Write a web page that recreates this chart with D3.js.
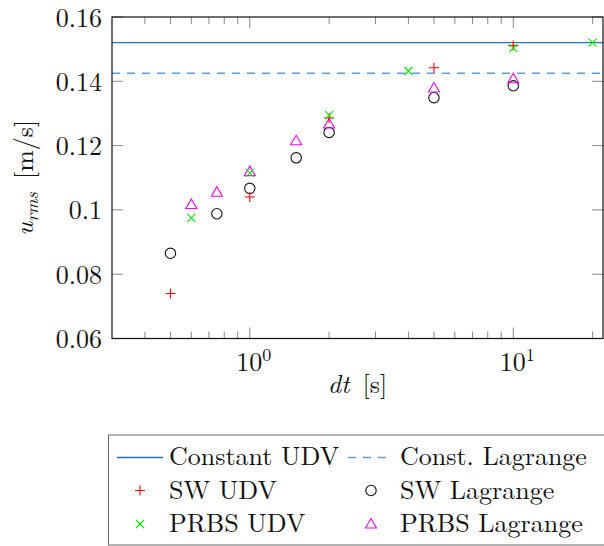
<!DOCTYPE html>
<html><head><meta charset="utf-8">
<script src="https://cdn.jsdelivr.net/npm/d3@7"></script>
<style>body{margin:0;background:#fff}svg{display:block}</style>
</head><body><svg id="c" width="604" height="546"></svg>
<script>
const swUdvX = [0.5, 1, 2, 5, 10];
const swUdvY = [0.074, 0.104, 0.1286, 0.1442, 0.1511];
const swLagX = [0.5, 0.75, 1, 1.5, 2, 5, 10];
const swLagY = [0.0865, 0.0988, 0.1067, 0.1162, 0.1241, 0.1349, 0.1386];
const prbsUdvX = [0.6, 1, 2, 4, 10, 20];
const prbsUdvY = [0.0975, 0.1115, 0.1295, 0.1432, 0.1503, 0.152];
const prbsLagX = [0.6, 0.75, 1, 1.5, 2, 5, 10];
const prbsLagY = [0.1017, 0.1055, 0.1119, 0.1215, 0.1267, 0.1379, 0.1408];
const constUdv = 0.152;
const constLag = 0.1425;
const yTicks = [0.06, 0.08, 0.1, 0.12, 0.14, 0.16];
const xMajor = [1, 10];
const xMinor = [0.4,0.5,0.6,0.7,0.8,0.9,2,3,4,5,6,7,8,9,20];
const legendLabels = ["Constant UDV","Const. Lagrange","SW UDV","SW Lagrange","PRBS UDV","PRBS Lagrange"];

const FF = "'Latin Modern Roman', 'Liberation Serif', serif";
const svg = d3.select("#c");
const L=112, R=603, T=17, B=338.5;
const x = d3.scaleLog().domain([0.3, 21.9]).range([L, R]);
const y = d3.scaleLinear().domain([0.06, 0.16]).range([B, T]);
const tickCol = "#8a8a8a";
const FS = 26;
const txt = "#111";
function T_(sel){ return sel.append("text").style("font-family",FF).attr("fill",txt).attr("font-size",FS); }

const g = svg.append("g");
yTicks.forEach(v=>{
  g.append("line").attr("x1",L).attr("x2",L+11).attr("y1",y(v)).attr("y2",y(v)).attr("stroke",tickCol);
  g.append("line").attr("x1",R-11).attr("x2",R).attr("y1",y(v)).attr("y2",y(v)).attr("stroke",tickCol);
  T_(g).attr("x",L-10).attr("y",y(v)+9.5).attr("text-anchor","end").text(d3.format(".2~f")(v));
});
xMinor.forEach(v=>{
  g.append("line").attr("x1",x(v)).attr("x2",x(v)).attr("y1",B).attr("y2",B-7).attr("stroke",tickCol);
  g.append("line").attr("x1",x(v)).attr("x2",x(v)).attr("y1",T).attr("y2",T+7).attr("stroke",tickCol);
});
xMajor.forEach(v=>{
  g.append("line").attr("x1",x(v)).attr("x2",x(v)).attr("y1",B).attr("y2",B-11).attr("stroke",tickCol);
  g.append("line").attr("x1",x(v)).attr("x2",x(v)).attr("y1",T).attr("y2",T+11).attr("stroke",tickCol);
  const t = T_(g).attr("x",x(v)+4).attr("y",371).attr("text-anchor","middle");
  t.append("tspan").text("10");
  t.append("tspan").attr("dy",-10).attr("font-size",18).text(Math.round(Math.log10(v)));
});

svg.append("line").attr("x1",L).attr("x2",R).attr("y1",y(constUdv)).attr("y2",y(constUdv)).attr("stroke","#1f77c0").attr("stroke-width",1.3);
svg.append("line").attr("x1",L).attr("x2",R).attr("y1",y(constLag)).attr("y2",y(constLag)).attr("stroke","#5f9fd6").attr("stroke-width",1.3).attr("stroke-dasharray","8,7");

function plus(sel, cx, cy){ sel.append("path").attr("d",`M${cx-5},${cy}H${cx+5}M${cx},${cy-5}V${cy+5}`).attr("stroke","#ff0000").attr("stroke-width",1.1).attr("fill","none"); }
function cross(sel, cx, cy){ sel.append("path").attr("d",`M${cx-4},${cy-4}L${cx+4},${cy+4}M${cx-4},${cy+4}L${cx+4},${cy-4}`).attr("stroke","#00ee00").attr("stroke-width",1.1).attr("fill","none"); }
function circ(sel, cx, cy){ sel.append("circle").attr("cx",cx).attr("cy",cy).attr("r",5.2).attr("stroke","#111").attr("stroke-width",1.1).attr("fill","none"); }
function tri(sel, cx, cy){ sel.append("path").attr("d",`M${cx},${cy-5.5}L${cx+5.5},${cy+4}L${cx-5.5},${cy+4}Z`).attr("stroke","#ff00ff").attr("stroke-width",1.1).attr("fill","none"); }

const mk = svg.append("g");
swLagX.forEach((v,i)=>circ(mk, x(v), y(swLagY[i])));
prbsLagX.forEach((v,i)=>tri(mk, x(v), y(prbsLagY[i])));
swUdvX.forEach((v,i)=>plus(mk, x(v), y(swUdvY[i])));
prbsUdvX.forEach((v,i)=>cross(mk, x(v), y(prbsUdvY[i])));

svg.append("rect").attr("x",L).attr("y",T).attr("width",R-L).attr("height",B-T).attr("fill","none").attr("stroke","#111").attr("stroke-width",1.2);

const xl = T_(svg).attr("x",(L+R)/2).attr("y",393).attr("text-anchor","middle");
xl.append("tspan").attr("font-style","italic").text("dt");
xl.append("tspan").text("\u2002[s]");
const yl = T_(svg).attr("transform",`translate(33,${(T+B)/2}) rotate(-90)`).attr("text-anchor","middle");
yl.append("tspan").attr("font-style","italic").text("u");
yl.append("tspan").attr("font-style","italic").attr("font-size",18).attr("dy",5).text("rms");
yl.append("tspan").attr("dy",-5).text("\u2002[m/s]");

const lg = svg.append("g");
lg.append("rect").attr("x",108.5).attr("y",435).attr("width",520).attr("height",110).attr("fill","#fff").attr("stroke","#666").attr("stroke-width",1);
const rows=[465,498.5,532];
lg.append("line").attr("x1",117).attr("x2",163).attr("y1",457.5).attr("y2",457.5).attr("stroke","#1f77c0").attr("stroke-width",1.3);
lg.append("line").attr("x1",348).attr("x2",390).attr("y1",457.5).attr("y2",457.5).attr("stroke","#5f9fd6").attr("stroke-width",1.3).attr("stroke-dasharray","8,7");
plus(lg,140,490.5); cross(lg,140,524);
circ(lg,371,490.5); tri(lg,371,524);
const lx=[169,400];
legendLabels.forEach((t,i)=>{
  T_(lg).attr("x",lx[i%2]).attr("y",rows[Math.floor(i/2)]).text(t);
});
</script></body></html>
